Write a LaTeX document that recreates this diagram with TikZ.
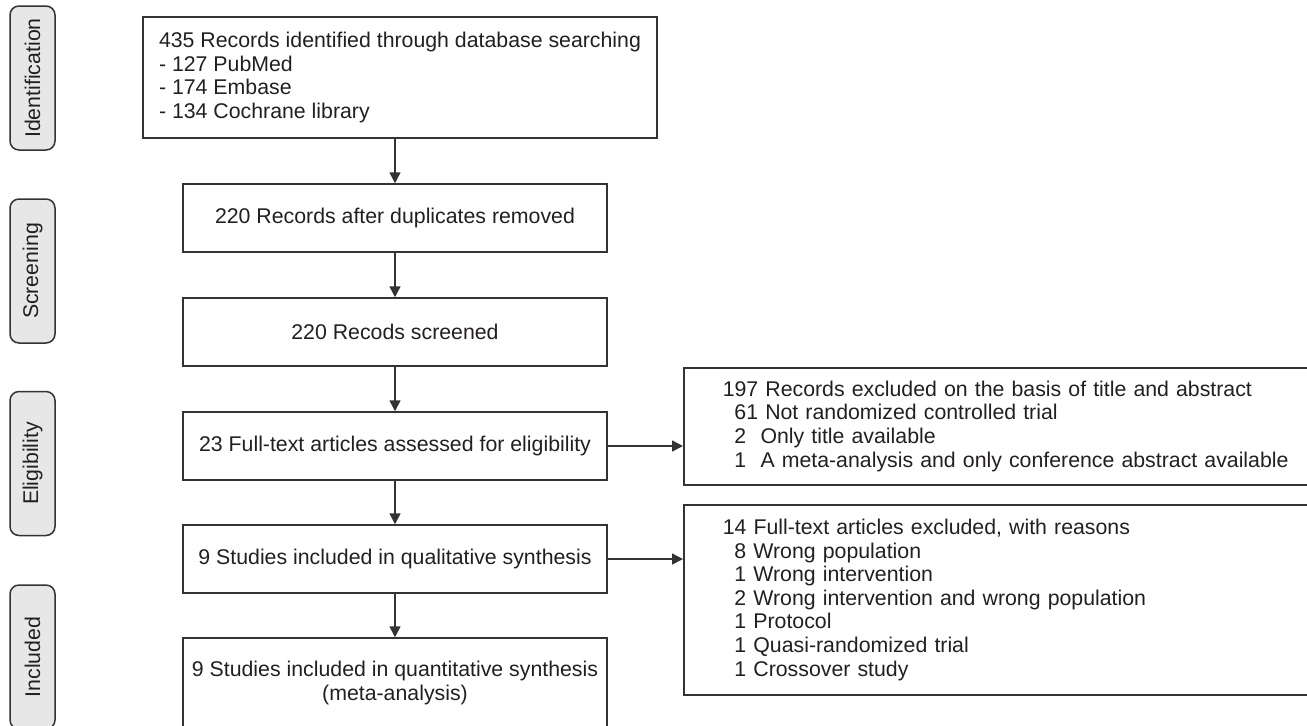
\documentclass[tikz,border=0pt]{standalone}
\usepackage{fontspec}
\setmainfont{Liberation Sans}
\usepackage{tikz}
\usetikzlibrary{arrows.meta, positioning}
\definecolor{linegray}{RGB}{51,51,51}
\definecolor{textgray}{RGB}{35,31,32}
\definecolor{stagefill}{RGB}{231,231,231}
\tikzset{
	stage/.style={
		rectangle, 
		rounded corners=4.5pt, 
		rotate=90, 
		minimum width=72pt, 
		minimum height=22.5pt, 
		inner sep=0pt, 
		draw=linegray, 
		fill=stagefill, 
		line width=0.75pt
	},
	flowbox/.style={
		rectangle, 
		minimum width=212pt, 
		minimum height=34pt, 
		align=center, 
		draw=linegray, 
		line width=0.75pt
	},
	exclbox/.style={
		rectangle, 
		anchor=north west, 
		text width=300pt, 
		inner xsep=19.5pt, 
		align=left, 
		draw=linegray, 
		line width=0.75pt
	},
	arrow/.style={line width=0.75pt, draw=linegray, -{Triangle[length=5.5pt,width=5.5pt]}}
}

\begin{document}
\begin{tikzpicture}[every node/.style={font=\fontsize{10.65}{11.8}\selectfont, text=textgray}]
				\useasboundingbox (0,0) rectangle (653.5pt,-362.5pt);
				\node (ident) [stage] at (16.25pt,-39pt) {Identification};
				\node (screen) [stage] at (16.25pt,-135.5pt) {Screening};
				\node (eligib) [stage] at (16.25pt,-231.75pt) {Eligibility};
				\node (incl) [stage] at (16.25pt,-328.5pt) {Included};
				
				\node (records) [flowbox, minimum width=257pt, minimum height=60.5pt, align=left] at (200pt,-38.75pt) {435 Records identified through database searching\\- 127 PubMed\\- 174 Embase\\- 134 Cochrane library};
				\node (dupl) [flowbox, below=22.25pt of records, xshift=-2.5pt] {220 Records after duplicates removed};
				\node (screened) [flowbox, below=22.25pt of dupl] {220 Recods screened};
				\node (fulltext) [flowbox, below=22.25pt of screened] {23 Full-text articles assessed for eligibility};
				\node (qual) [flowbox, below=21.75pt of fulltext] {9 Studies included in qualitative synthesis};
				\node (quant) [flowbox, below=21.75pt of qual, minimum height=45pt] {9 Studies included in quantitative synthesis\\(meta-analysis)};
				
				\node (excltitle) [exclbox, minimum height=58.5pt] at (341.5pt,-183.5pt) {197 Records excluded on the basis of title and abstract\\\hspace*{0.55em}61 Not randomized controlled trial\\\hspace*{0.55em}2\ \ Only title available\\\hspace*{0.55em}1\ \ A meta-analysis and only conference abstract available};
				\node (exclfull) [exclbox, minimum height=95pt] at (341.5pt,-252pt) {14 Full-text articles excluded, with reasons\\\hspace*{0.55em}8 Wrong population\\\hspace*{0.55em}1 Wrong intervention\\\hspace*{0.55em}2 Wrong intervention and wrong population\\\hspace*{0.55em}1 Protocol\\\hspace*{0.55em}1 Quasi-randomized trial\\\hspace*{0.55em}1 Crossover study};
				
				\draw [arrow] (dupl.north |- records.south) -- (dupl);
				\draw [arrow] (dupl) -- (screened);
				\draw [arrow] (screened) -- (fulltext);
				\draw [arrow] (fulltext) -- (qual);
				\draw [arrow] (qual) -- (quant);
				\draw [arrow] (fulltext.east) -- (fulltext.east -| excltitle.west);
				\draw [arrow] (qual.east) -- (qual.east -| exclfull.west);
			\end{tikzpicture}
\end{document}
